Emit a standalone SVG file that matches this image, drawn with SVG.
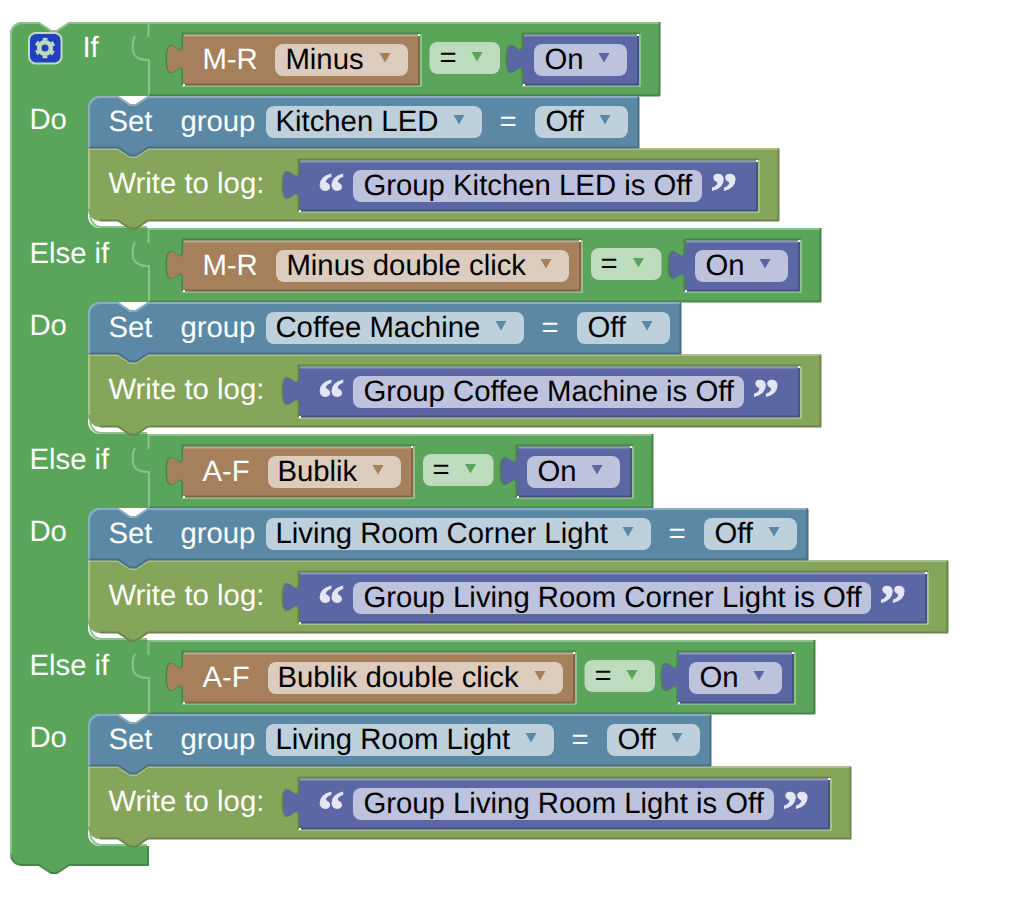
<svg xmlns="http://www.w3.org/2000/svg" width="1036" height="898" viewBox="0 0 1036 898">
<style>
text{font-family:"Liberation Sans",Arial,sans-serif;font-size:29.33px;fill:#000;text-rendering:geometricPrecision;transform:translate(-.6px,0)}
text.w{fill:#fff}
#if-block text{transform:translate(-.6px,1px)}
text.q{font-family:"Liberation Serif","Times New Roman",serif;font-weight:bold;font-size:54px;fill:#e4e7f3;stroke:#e4e7f3;stroke-width:.9px}
path,rect{stroke-linejoin:round}
.fg{fill:#5ba55b}.fs{fill:#5b89a5}.fl{fill:#85a55b}.fb{fill:#a5805b}.fp{fill:#5b67a5}
.hg{fill:none;stroke-width:2;stroke:#8cc08c}.dg{fill:none;stroke-width:2;stroke:#498449}
.hs{fill:none;stroke-width:2;stroke:#8cacc0}.ds{fill:none;stroke-width:2;stroke:#496e84}
.hl{fill:none;stroke-width:2;stroke:#a9c08c}.dl{fill:none;stroke-width:2;stroke:#6a8449}
.hb{fill:none;stroke-width:2;stroke:#c0a68c}.db{fill:none;stroke-width:2;stroke:#846649}
.hp{fill:none;stroke-width:2;stroke:#8c95c0}.dp{fill:none;stroke-width:2;stroke:#495284}
.pb{fill:#dbccbd}.pg{fill:#bddbbd}.ps{fill:#bdd0db}.pp{fill:#bdc2dd}
.pip{fill:#fff}
</style>
<defs>
<path id="arr" d="M-5.500,0H5.500L0,9.500Z"/>
</defs>
<g id="if-block">
<path class="fg" d="M10,34a12,12 0 0 1 12,-12H39l12,8h6l12,-8H149V96H100a12,12 0 0 0 -12,12V216a12,12 0 0 0 12,12H149V302H100a12,12 0 0 0 -12,12V422a12,12 0 0 0 12,12H149V508H100a12,12 0 0 0 -12,12V628a12,12 0 0 0 12,12H149V714H100a12,12 0 0 0 -12,12V834a12,12 0 0 0 12,12H148V865.500H69l-12,8h-6l-12,-8H22a12,12 0 0 1 -12,-12Z"/>
<path class="hg" d="M11,853.500V34a11,11 0 0 1 11,-11H39l12,8h6l12,-8H148"/>
<path class="hg" d="M90,216q2,10 10,11H147M90,422q2,10 10,11H147M90,628q2,10 10,11H147M90,834q2,10 10,11H147"/>
<path class="dg" d="M148,846V865H69l-12,8h-6l-12,-8H22q-8,0 -11,-8"/>
<g id="settings-button">
<rect x="29" y="33" width="32.500" height="30.500" rx="7" fill="#2040c0" stroke="#bddbbd" stroke-width="2"/>
<circle cx="45" cy="48" r="9" fill="none" stroke="#bddbbd" stroke-width="2.500" stroke-dasharray="4.700 4.725" transform="rotate(75.200 45 48)"/>
<circle cx="45" cy="48" r="5.800" fill="none" stroke="#bddbbd" stroke-width="4.600"/>
</g>
<text class="w" x="83" y="56">If</text>
<text class="w" x="30" y="128">Do</text>
<text class="w" x="30" y="262">Else if</text>
<text class="w" x="30" y="334">Do</text>
<text class="w" x="30" y="468">Else if</text>
<text class="w" x="30" y="540">Do</text>
<text class="w" x="30" y="674">Else if</text>
<text class="w" x="30" y="746">Do</text>
</g>

<g id="compare-1">
<path class="fg" d="M148,22H660V96H148V62c0,-20 -16,16 -16,-15s16,5 16,-15Z"/>
<path class="hg" d="M149,96V60H148q-11,0 -14,-6c-2,-4 -2,-13 1,-18M148.500,37V23H659"/>
<path class="dg" d="M659.500,22V95.500H149"/>
<g id="field-1">
<path class="dg" d="M421,33.500H182.500V44c0,20 -16,-16 -16,15s16,-5 16,15V86"/><path class="hg" d="M182,86H421V34"/>
<path class="fb" d="M183,35V44c0,20 -16,-16 -16,15s16,-5 16,15V85H420V35Z"/>
<path class="hb" d="M184,35.500H419"/><path class="db" d="M419,36V84.500H184"/>
<rect class="pip" x="418" y="34" width="2" height="2"/><rect class="pip" x="183" y="84" width="2" height="2"/>
<text class="w" x="203" y="69">M-R</text>
<rect class="pb" x="275" y="44" width="133" height="32" rx="8"/>
<text x="286" y="69">Minus</text>
<use href="#arr" x="385" y="53" class="fb"/>
</g>
<g id="op-1"><rect class="pg" x="429.500" y="42" width="70.500" height="32" rx="8"/><text x="440" y="67">=</text><use href="#arr" x="477" y="52" class="fg"/></g>
<g id="state-1">
<path class="dg" d="M640,33.500H522.500V44c0,20 -16,-16 -16,15s16,-5 16,15V86"/><path class="hg" d="M522,86H640V34"/>
<path class="fp" d="M523,35V44c0,20 -16,-16 -16,15s16,-5 16,15V85H639V35Z"/>
<path class="hp" d="M524,35.500H638"/><path class="dp" d="M638,36V84.500H524"/>
<rect class="pip" x="637" y="34" width="2" height="2"/><rect class="pip" x="523" y="84" width="2" height="2"/>
<rect class="pp" x="534" y="44" width="93" height="32" rx="8"/>
<text x="545" y="69">On</text>
<use href="#arr" x="604" y="53" class="fp"/>
</g>
</g>

<g id="log-1">
<path class="fl" d="M88,148H118l12,8h6l12,-8H779V221H148l-12,8h-6l-12,-8H100a12,12 0 0 1 -12,-12Z"/>
<path class="hl" d="M89,209V149H118l12,8h6l12,-8H778"/>
<path class="dl" d="M778.500,149V220.500H148l-12,8h-6l-12,-8H100"/>
<path class="dl" d="M759,159.500H298.500V170c0,20 -16,-16 -16,15s16,-5 16,15V212"/><path class="hl" d="M298,212H759V160"/>
<path class="fp" d="M299,161V170c0,20 -16,-16 -16,15s16,-5 16,15V211H758V161Z"/>
<path class="hp" d="M300,161.500H757"/><path class="dp" d="M757,162V210.500H300"/>
<rect class="pip" x="756" y="160" width="2" height="2"/><rect class="pip" x="299" y="210" width="2" height="2"/>
<text class="w" x="109" y="193">Write to log:</text>
<text class="q" x="318" y="210">“</text>
<rect class="pp" x="353" y="170" width="349" height="32" rx="8"/>
<text x="364" y="195">Group Kitchen LED is Off</text>
<text class="q" x="711" y="210">”</text>
</g>
<g id="set-1">
<path class="fs" d="M88,108a12,12 0 0 1 12,-12H118l12,8h6l12,-8H639V148H148l-12,8h-6l-12,-8H88Z"/>
<path class="hs" d="M89,147V108a11,11 0 0 1 11,-11H118l12,8h6l12,-8H638"/>
<path class="ds" d="M638.500,97V147.500H148l-12,8h-6l-12,-8H90"/>
<text class="w" x="109" y="131">Set</text>
<text class="w" x="181" y="131">group</text>
<rect class="ps" x="266" y="106" width="216" height="32" rx="8"/>
<text x="276" y="131">Kitchen LED</text>
<use href="#arr" x="459" y="115" class="fs"/>
<text class="w" x="500" y="131">=</text>
<rect class="ps" x="535" y="106" width="93" height="32" rx="8"/>
<text x="546" y="131">Off</text>
<use href="#arr" x="605" y="115" class="fs"/>
</g>

<g id="row-2" transform="translate(0,206)">
<g id="compare-2">
<path class="fg" d="M148,22H821V96H148V62c0,-20 -16,16 -16,-15s16,5 16,-15Z"/>
<path class="hg" d="M149,96V60H148q-11,0 -14,-6c-2,-4 -2,-13 1,-18M148.500,37V23H820"/>
<path class="dg" d="M820.500,22V95.500H149"/>
<g id="field-2">
<path class="dg" d="M582,33.500H182.500V44c0,20 -16,-16 -16,15s16,-5 16,15V86"/><path class="hg" d="M182,86H582V34"/>
<path class="fb" d="M183,35V44c0,20 -16,-16 -16,15s16,-5 16,15V85H581V35Z"/>
<path class="hb" d="M184,35.500H580"/><path class="db" d="M580,36V84.500H184"/>
<rect class="pip" x="579" y="34" width="2" height="2"/><rect class="pip" x="183" y="84" width="2" height="2"/>
<text class="w" x="203" y="69">M-R</text>
<rect class="pb" x="276" y="44" width="293" height="32" rx="8"/>
<text x="287" y="69">Minus double click</text>
<use href="#arr" x="546" y="53" class="fb"/>
</g>
<g id="op-2"><rect class="pg" x="591" y="42" width="70.500" height="32" rx="8"/><text x="601" y="67">=</text><use href="#arr" x="638.500" y="52" class="fg"/></g>
<g id="state-2">
<path class="dg" d="M801,33.500H684.500V44c0,20 -16,-16 -16,15s16,-5 16,15V86"/><path class="hg" d="M684,86H801V34"/>
<path class="fp" d="M685,35V44c0,20 -16,-16 -16,15s16,-5 16,15V85H800V35Z"/>
<path class="hp" d="M686,35.500H799"/><path class="dp" d="M799,36V84.500H686"/>
<rect class="pip" x="798" y="34" width="2" height="2"/><rect class="pip" x="685" y="84" width="2" height="2"/>
<rect class="pp" x="695" y="44" width="93" height="32" rx="8"/>
<text x="706" y="69">On</text>
<use href="#arr" x="765" y="53" class="fp"/>
</g>
</g>
<g id="log-2">
<path class="fl" d="M88,148H118l12,8h6l12,-8H821V221H148l-12,8h-6l-12,-8H100a12,12 0 0 1 -12,-12Z"/>
<path class="hl" d="M89,209V149H118l12,8h6l12,-8H820"/>
<path class="dl" d="M820.500,149V220.500H148l-12,8h-6l-12,-8H100"/>
<path class="dl" d="M801,159.500H298.500V170c0,20 -16,-16 -16,15s16,-5 16,15V212"/><path class="hl" d="M298,212H801V160"/>
<path class="fp" d="M299,161V170c0,20 -16,-16 -16,15s16,-5 16,15V211H800V161Z"/>
<path class="hp" d="M300,161.500H799"/><path class="dp" d="M799,162V210.500H300"/>
<rect class="pip" x="798" y="160" width="2" height="2"/><rect class="pip" x="299" y="210" width="2" height="2"/>
<text class="w" x="109" y="193">Write to log:</text>
<text class="q" x="318" y="210">“</text>
<rect class="pp" x="353" y="170" width="391" height="32" rx="8"/>
<text x="364" y="195">Group Coffee Machine is Off</text>
<text class="q" x="753" y="210">”</text>
</g>
<g id="set-2">
<path class="fs" d="M88,108a12,12 0 0 1 12,-12H118l12,8h6l12,-8H681V148H148l-12,8h-6l-12,-8H88Z"/>
<path class="hs" d="M89,147V108a11,11 0 0 1 11,-11H118l12,8h6l12,-8H680"/>
<path class="ds" d="M680.500,97V147.500H148l-12,8h-6l-12,-8H90"/>
<text class="w" x="109" y="131">Set</text>
<text class="w" x="181" y="131">group</text>
<rect class="ps" x="266" y="106" width="258" height="32" rx="8"/>
<text x="276" y="131">Coffee Machine</text>
<use href="#arr" x="501" y="115" class="fs"/>
<text class="w" x="542" y="131">=</text>
<rect class="ps" x="577" y="106" width="93" height="32" rx="8"/>
<text x="588" y="131">Off</text>
<use href="#arr" x="647" y="115" class="fs"/>
</g>
</g>

<g id="row-3" transform="translate(0,412)">
<g id="compare-3">
<path class="fg" d="M148,22H653V96H148V62c0,-20 -16,16 -16,-15s16,5 16,-15Z"/>
<path class="hg" d="M149,96V60H148q-11,0 -14,-6c-2,-4 -2,-13 1,-18M148.500,37V23H652"/>
<path class="dg" d="M652.500,22V95.500H149"/>
<g id="field-3">
<path class="dg" d="M414,33.500H182.500V44c0,20 -16,-16 -16,15s16,-5 16,15V86"/><path class="hg" d="M182,86H414V34"/>
<path class="fb" d="M183,35V44c0,20 -16,-16 -16,15s16,-5 16,15V85H413V35Z"/>
<path class="hb" d="M184,35.500H412"/><path class="db" d="M412,36V84.500H184"/>
<rect class="pip" x="411" y="34" width="2" height="2"/><rect class="pip" x="183" y="84" width="2" height="2"/>
<text class="w" x="203" y="69">A-F</text>
<rect class="pb" x="268" y="44" width="133" height="32" rx="8"/>
<text x="278" y="69">Bublik</text>
<use href="#arr" x="378" y="53" class="fb"/>
</g>
<g id="op-3"><rect class="pg" x="423" y="42" width="70.500" height="32" rx="8"/><text x="433" y="67">=</text><use href="#arr" x="470.500" y="52" class="fg"/></g>
<g id="state-3">
<path class="dg" d="M633,33.500H516.500V44c0,20 -16,-16 -16,15s16,-5 16,15V86"/><path class="hg" d="M516,86H633V34"/>
<path class="fp" d="M517,35V44c0,20 -16,-16 -16,15s16,-5 16,15V85H632V35Z"/>
<path class="hp" d="M518,35.500H631"/><path class="dp" d="M631,36V84.500H518"/>
<rect class="pip" x="630" y="34" width="2" height="2"/><rect class="pip" x="517" y="84" width="2" height="2"/>
<rect class="pp" x="527" y="44" width="93" height="32" rx="8"/>
<text x="538" y="69">On</text>
<use href="#arr" x="597" y="53" class="fp"/>
</g>
</g>
<g id="log-3">
<path class="fl" d="M88,148H118l12,8h6l12,-8H948V221H148l-12,8h-6l-12,-8H100a12,12 0 0 1 -12,-12Z"/>
<path class="hl" d="M89,209V149H118l12,8h6l12,-8H947"/>
<path class="dl" d="M947.500,149V220.500H148l-12,8h-6l-12,-8H100"/>
<path class="dl" d="M928,159.500H298.500V170c0,20 -16,-16 -16,15s16,-5 16,15V212"/><path class="hl" d="M298,212H928V160"/>
<path class="fp" d="M299,161V170c0,20 -16,-16 -16,15s16,-5 16,15V211H927V161Z"/>
<path class="hp" d="M300,161.500H926"/><path class="dp" d="M926,162V210.500H300"/>
<rect class="pip" x="925" y="160" width="2" height="2"/><rect class="pip" x="299" y="210" width="2" height="2"/>
<text class="w" x="109" y="193">Write to log:</text>
<text class="q" x="318" y="210">“</text>
<rect class="pp" x="353" y="170" width="518" height="32" rx="8"/>
<text x="364" y="195">Group Living Room Corner Light is Off</text>
<text class="q" x="880" y="210">”</text>
</g>
<g id="set-3">
<path class="fs" d="M88,108a12,12 0 0 1 12,-12H118l12,8h6l12,-8H808V148H148l-12,8h-6l-12,-8H88Z"/>
<path class="hs" d="M89,147V108a11,11 0 0 1 11,-11H118l12,8h6l12,-8H807"/>
<path class="ds" d="M807.500,97V147.500H148l-12,8h-6l-12,-8H90"/>
<text class="w" x="109" y="131">Set</text>
<text class="w" x="181" y="131">group</text>
<rect class="ps" x="266" y="106" width="385" height="32" rx="8"/>
<text x="276" y="131">Living Room Corner Light</text>
<use href="#arr" x="628" y="115" class="fs"/>
<text class="w" x="669" y="131">=</text>
<rect class="ps" x="704" y="106" width="93" height="32" rx="8"/>
<text x="715" y="131">Off</text>
<use href="#arr" x="774" y="115" class="fs"/>
</g>
</g>

<g id="row-4" transform="translate(0,618)">
<g id="compare-4">
<path class="fg" d="M148,22H815V96H148V62c0,-20 -16,16 -16,-15s16,5 16,-15Z"/>
<path class="hg" d="M149,96V60H148q-11,0 -14,-6c-2,-4 -2,-13 1,-18M148.500,37V23H814"/>
<path class="dg" d="M814.500,22V95.500H149"/>
<g id="field-4">
<path class="dg" d="M576,33.500H182.500V44c0,20 -16,-16 -16,15s16,-5 16,15V86"/><path class="hg" d="M182,86H576V34"/>
<path class="fb" d="M183,35V44c0,20 -16,-16 -16,15s16,-5 16,15V85H575V35Z"/>
<path class="hb" d="M184,35.500H574"/><path class="db" d="M574,36V84.500H184"/>
<rect class="pip" x="573" y="34" width="2" height="2"/><rect class="pip" x="183" y="84" width="2" height="2"/>
<text class="w" x="203" y="69">A-F</text>
<rect class="pb" x="268" y="44" width="295" height="32" rx="8"/>
<text x="278" y="69">Bublik double click</text>
<use href="#arr" x="540" y="53" class="fb"/>
</g>
<g id="op-4"><rect class="pg" x="584.500" y="42" width="70.500" height="32" rx="8"/><text x="595" y="67">=</text><use href="#arr" x="632" y="52" class="fg"/></g>
<g id="state-4">
<path class="dg" d="M795,33.500H677.500V44c0,20 -16,-16 -16,15s16,-5 16,15V86"/><path class="hg" d="M677,86H795V34"/>
<path class="fp" d="M678,35V44c0,20 -16,-16 -16,15s16,-5 16,15V85H794V35Z"/>
<path class="hp" d="M679,35.500H793"/><path class="dp" d="M793,36V84.500H679"/>
<rect class="pip" x="792" y="34" width="2" height="2"/><rect class="pip" x="678" y="84" width="2" height="2"/>
<rect class="pp" x="689" y="44" width="93" height="32" rx="8"/>
<text x="700" y="69">On</text>
<use href="#arr" x="759" y="53" class="fp"/>
</g>
</g>
<g id="log-4">
<path class="fl" d="M88,148H118l12,8h6l12,-8H851V221H148l-12,8h-6l-12,-8H100a12,12 0 0 1 -12,-12Z"/>
<path class="hl" d="M89,209V149H118l12,8h6l12,-8H850"/>
<path class="dl" d="M850.500,149V220.500H148l-12,8h-6l-12,-8H100"/>
<path class="dl" d="M831,159.500H298.500V170c0,20 -16,-16 -16,15s16,-5 16,15V212"/><path class="hl" d="M298,212H831V160"/>
<path class="fp" d="M299,161V170c0,20 -16,-16 -16,15s16,-5 16,15V211H830V161Z"/>
<path class="hp" d="M300,161.500H829"/><path class="dp" d="M829,162V210.500H300"/>
<rect class="pip" x="828" y="160" width="2" height="2"/><rect class="pip" x="299" y="210" width="2" height="2"/>
<text class="w" x="109" y="193">Write to log:</text>
<text class="q" x="318" y="210">“</text>
<rect class="pp" x="353" y="170" width="421" height="32" rx="8"/>
<text x="364" y="195">Group Living Room Light is Off</text>
<text class="q" x="783" y="210">”</text>
</g>
<g id="set-4">
<path class="fs" d="M88,108a12,12 0 0 1 12,-12H118l12,8h6l12,-8H711V148H148l-12,8h-6l-12,-8H88Z"/>
<path class="hs" d="M89,147V108a11,11 0 0 1 11,-11H118l12,8h6l12,-8H710"/>
<path class="ds" d="M710.500,97V147.500H148l-12,8h-6l-12,-8H90"/>
<text class="w" x="109" y="131">Set</text>
<text class="w" x="181" y="131">group</text>
<rect class="ps" x="266" y="106" width="288" height="32" rx="8"/>
<text x="276" y="131">Living Room Light</text>
<use href="#arr" x="531" y="115" class="fs"/>
<text class="w" x="572" y="131">=</text>
<rect class="ps" x="607" y="106" width="93" height="32" rx="8"/>
<text x="618" y="131">Off</text>
<use href="#arr" x="677" y="115" class="fs"/>
</g>
</g>
</svg>
